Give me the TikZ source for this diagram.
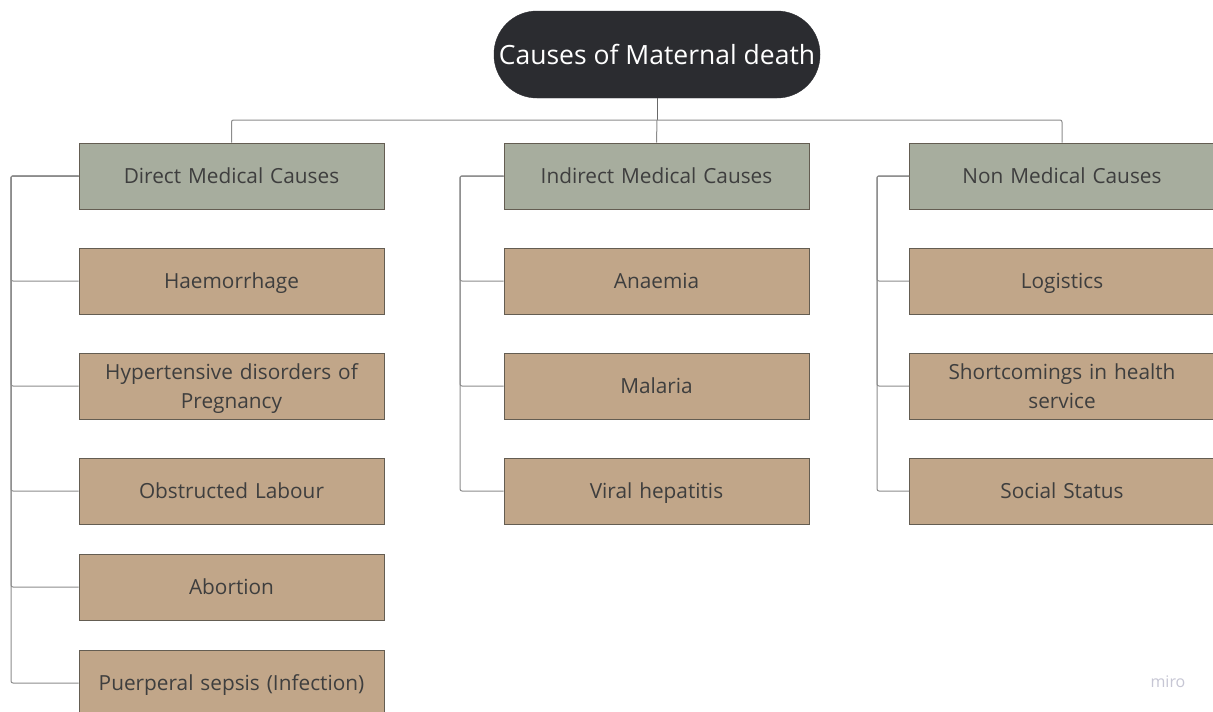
\documentclass[tikz,border=0pt]{standalone}
\usepackage{fontspec}
\setmainfont{Open Sans}
\definecolor{rootfill}{HTML}{2B2C30}
\definecolor{headfill}{HTML}{A7AD9E}
\definecolor{itemfill}{HTML}{C1A689}
\definecolor{boxline}{HTML}{645D52}
\definecolor{wire}{HTML}{8C8C8C}
\definecolor{txt}{HTML}{3E3E3E}
\definecolor{logo}{HTML}{C6C6D4}
\begin{document}
\begin{tikzpicture}[x=1pt,y=-1pt,
  rootbox/.style={draw=rootfill,fill=rootfill,rounded corners=43pt,minimum width=326pt,minimum height=87pt,
    text=white,font=\fontsize{26.5}{30}\selectfont,inner sep=0pt,text height=19pt,text depth=0pt},
  box/.style={draw=boxline,line width=1pt,minimum width=305pt,minimum height=66pt,inner sep=2pt,
    text=txt,font=\fontsize{20.8}{29}\selectfont,align=center,text width=290pt,
    text height=15pt,text depth=0pt},
  twoline/.style={text depth=29pt},
  headbox/.style={box,fill=headfill},
  itembox/.style={box,fill=itemfill},
  link/.style={draw=wire,line width=1pt,rounded corners=2pt},
]
\useasboundingbox (0,0) rectangle (1213,712);
\fill[white] (0,0) rectangle (1213,712);

% root
\node[rootbox] (root) at (657,54.5) {Causes of Maternal death};

% headings
\node[headbox] (h1) at (231.5,176) {Direct Medical Causes};
\node[headbox] (h2) at (656.5,176) {Indirect Medical Causes};
\node[headbox] (h3) at (1062,176) {Non Medical Causes};

% direct causes
\node[itembox] (a1) at (231.5,281) {Haemorrhage};
\node[itembox,twoline] (a2) at (231.5,386) {Hypertensive disorders of\\Pregnancy};
\node[itembox] (a3) at (231.5,491) {Obstructed Labour};
\node[itembox] (a4) at (231.5,587) {Abortion};
\node[itembox] (a5) at (231.5,683) {Puerperal sepsis (Infection)};

% indirect causes
\node[itembox] (b1) at (656.5,281) {Anaemia};
\node[itembox] (b2) at (656.5,386) {Malaria};
\node[itembox] (b3) at (656.5,491) {Viral hepatitis};

% non medical causes
\node[itembox] (c1) at (1062,281) {Logistics};
\node[itembox,twoline] (c2) at (1062,386) {Shortcomings in health\\service};
\node[itembox] (c3) at (1062,491) {Social Status};

% root to headings
\coordinate (bus) at (657,120);
\draw[link,draw=wire!75!black] (root.south) -- (bus);
\draw[link] (h1.north) |- (bus) -| (h3.north);
\draw[link] (bus) -- (h2.north);

% heading to items
\foreach \n in {a1,a2,a3,a4,a5} \draw[link] (h1.west) -| (11,0 |- \n.west) -- (\n.west);
\foreach \n in {b1,b2,b3} \draw[link] (h2.west) -| (460,0 |- \n.west) -- (\n.west);
\foreach \n in {c1,c2,c3} \draw[link] (h3.west) -| (877,0 |- \n.west) -- (\n.west);

% watermark
\node[font=\fontsize{16}{18}\selectfont,text=logo] (brand) at (1168,682) {miro};
\end{tikzpicture}
\end{document}
